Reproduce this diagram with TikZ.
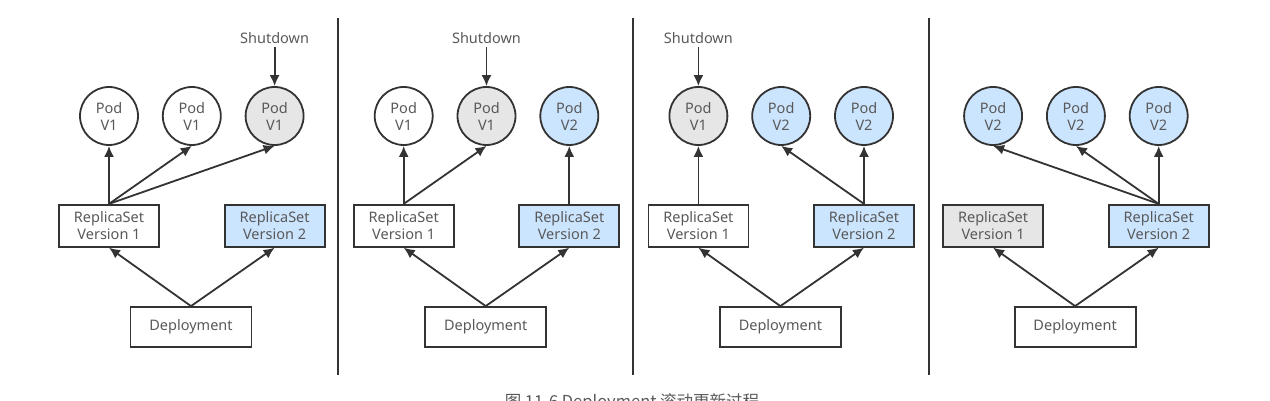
\documentclass[tikz,border=0pt]{standalone}
\usepackage{fontspec}
\setmainfont{Noto Sans}
\newfontfamily\cjk{Noto Sans CJK SC}
\usetikzlibrary{positioning}
\usetikzlibrary{arrows.meta}
\tikzset{>={Latex[width=10pt,length=11pt]}}
\definecolor{linegray}{HTML}{333333}
\definecolor{textgray}{HTML}{595959}
\definecolor{podblue}{HTML}{CCE5FF}
\definecolor{podgray}{HTML}{E6E6E6}

\begin{document}
\begin{tikzpicture}[x=1pt, y=-1pt, node distance=58pt and 23pt, line width=1.8pt, draw=linegray, pod/.style={circle, draw=linegray, fill=white, line width=1.8pt, minimum size=58pt, inner sep=0pt, align=center, text=textgray, font=\fontsize{14.5}{17}\selectfont}, rsbox/.style={rectangle, draw=linegray, fill=white, line width=1.8pt, minimum width=100pt, minimum height=42pt, inner sep=0pt, align=center, text=textgray, font=\fontsize{14.5}{17}\selectfont}, deploybox/.style={rsbox, minimum width=121pt, minimum height=40pt}, shuttext/.style={draw=none, fill=none, inner sep=2.5pt, text=textgray, font=\fontsize{14.5}{17}\selectfont}, divider/.style={draw=linegray, line width=1.8pt}]

    \useasboundingbox (0,0) rectangle (1270,401);

    %Nodes, step 1
    \node[pod](pod_a1) at (109,116){Pod\\V1};
    \node[pod](pod_b1)[right=of pod_a1]{Pod\\V1};
    \node[pod, fill=podgray](pod_c1)[right=of pod_b1]{Pod\\V1};
    \node[rsbox](rs_old1)[below=of pod_a1]{ReplicaSet\\Version 1};
    \node[rsbox, fill=podblue](rs_new1)[below=of pod_c1]{ReplicaSet\\Version 2};
    \node[deploybox](deploy1) at (191,327){Deployment};
    \node[shuttext](shutdown1)[above=39pt of pod_c1]{Shutdown};

    %Nodes, step 2
    \node[pod](pod_a2) at (403.7,116){Pod\\V1};
    \node[pod, fill=podgray](pod_b2)[right=of pod_a2]{Pod\\V1};
    \node[pod, fill=podblue](pod_c2)[right=of pod_b2]{Pod\\V2};
    \node[rsbox](rs_old2)[below=of pod_a2]{ReplicaSet\\Version 1};
    \node[rsbox, fill=podblue](rs_new2)[below=of pod_c2]{ReplicaSet\\Version 2};
    \node[deploybox](deploy2) at (485.7,327){Deployment};
    \node[shuttext](shutdown2)[above=39pt of pod_b2]{Shutdown};

    %Nodes, step 3
    \node[pod, fill=podgray](pod_a3) at (698.4,116){Pod\\V1};
    \node[pod, fill=podblue](pod_b3)[right=of pod_a3]{Pod\\V2};
    \node[pod, fill=podblue](pod_c3)[right=of pod_b3]{Pod\\V2};
    \node[rsbox](rs_old3)[below=of pod_a3]{ReplicaSet\\Version 1};
    \node[rsbox, fill=podblue](rs_new3)[below=of pod_c3]{ReplicaSet\\Version 2};
    \node[deploybox](deploy3) at (780.4,327){Deployment};
    \node[shuttext](shutdown3)[above=39pt of pod_a3]{Shutdown};

    %Nodes, step 4
    \node[pod, fill=podblue](pod_a4) at (993.1,116){Pod\\V2};
    \node[pod, fill=podblue](pod_b4)[right=of pod_a4]{Pod\\V2};
    \node[pod, fill=podblue](pod_c4)[right=of pod_b4]{Pod\\V2};
    \node[rsbox, fill=podgray](rs_old4)[below=of pod_a4]{ReplicaSet\\Version 1};
    \node[rsbox, fill=podblue](rs_new4)[below=of pod_c4]{ReplicaSet\\Version 2};
    \node[deploybox](deploy4) at (1075.1,327){Deployment};

    %Caption
    \node[shuttext, anchor=base, font=\fontsize{16.5}{20}\selectfont](caption) at (632,407){\cjk 图 11-6 Deployment 滚动更新过程};

    %Lines, step 1
    \draw[->] (deploy1.north) -- (rs_old1.south);
    \draw[->] (deploy1.north) -- (rs_new1.south);
    \draw[->] (rs_old1.north) -- (pod_a1.south);
    \draw[->] (rs_old1.north) -- (pod_b1.south);
    \draw[->] (rs_old1.north) -- (pod_c1.south);
    \draw[->] (shutdown1.south) -- (pod_c1.north);

    %Lines, step 2
    \draw[->] (deploy2.north) -- (rs_old2.south);
    \draw[->] (deploy2.north) -- (rs_new2.south);
    \draw[->] (rs_old2.north) -- (pod_a2.south);
    \draw[->] (rs_old2.north) -- (pod_b2.south);
    \draw[->] (rs_new2.north) -- (pod_c2.south);
    \draw[->] (shutdown2.south) -- (pod_b2.north);

    %Lines, step 3
    \draw[->] (deploy3.north) -- (rs_old3.south);
    \draw[->] (deploy3.north) -- (rs_new3.south);
    \draw[->] (rs_old3.north) -- (pod_a3.south);
    \draw[->] (rs_new3.north) -- (pod_b3.south);
    \draw[->] (rs_new3.north) -- (pod_c3.south);
    \draw[->] (shutdown3.south) -- (pod_a3.north);

    %Lines, step 4
    \draw[->] (deploy4.north) -- (rs_old4.south);
    \draw[->] (deploy4.north) -- (rs_new4.south);
    \draw[->] (rs_new4.north) -- (pod_a4.south);
    \draw[->] (rs_new4.north) -- (pod_b4.south);
    \draw[->] (rs_new4.north) -- (pod_c4.south);

    %Dividers
    \draw[divider] (338,18) -- (338,375);
    \draw[divider] (633,18) -- (633,375);
    \draw[divider] (929,18) -- (929,375);

\end{tikzpicture}
\end{document}
